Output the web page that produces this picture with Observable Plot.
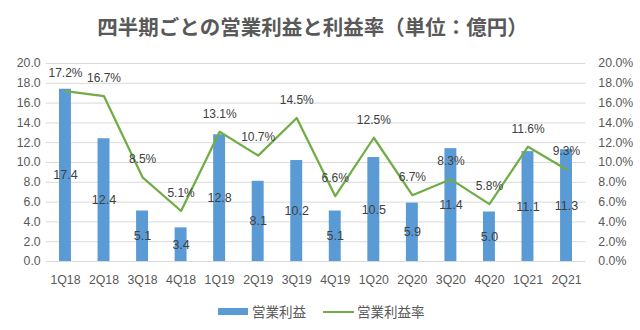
<!DOCTYPE html>
<html>
<head>
<meta charset="utf-8">
<script src="https://cdn.jsdelivr.net/npm/d3@7"></script>
<script src="https://cdn.jsdelivr.net/npm/@observablehq/plot@0.6"></script>
<style>
  body { margin: 0; background: #fff; }
  #wrap { position: relative; width: 640px; height: 330px; overflow: hidden; background: #fff; }
  #title { position: absolute; left: 0; top: 0; width: 625px; height: 45px; line-height: 52px; text-align: center;
    font-family: "Noto Sans CJK JP", sans-serif; font-weight: bold; font-size: 20.5px; color: #595959; }
  #chart { position: absolute; left: 0; top: 45px; }
  #legend { position: absolute; left: 0; top: 297px; width: 640px; height: 30px;
    font-family: "Noto Sans CJK JP", sans-serif; font-size: 13.5px; color: #595959; }
  .sw { position: absolute; }
  .lt { position: absolute; top: 4px; line-height: 20px; }
</style>
</head>
<body>
<div id="wrap">
  <div id="title">四半期ごとの営業利益と利益率（単位：億円）</div>
  <div id="chart"></div>
  <div id="legend">
    <div class="sw" style="left:218px; top:11px; width:30px; height:7px; background:#5B9BD5;"></div>
    <div class="lt" style="left:252px;">営業利益</div>
    <div class="sw" style="left:323px; top:14px; width:31px; height:2px; background:#70AD47;"></div>
    <div class="lt" style="left:357px;">営業利益率</div>
  </div>
</div>
<script>
const quarters = ["1Q18","2Q18","3Q18","4Q18","1Q19","2Q19","3Q19","4Q19","1Q20","2Q20","3Q20","4Q20","1Q21","2Q21"];
const profit = [17.4, 12.4, 5.1, 3.4, 12.8, 8.1, 10.2, 5.1, 10.5, 5.9, 11.4, 5.0, 11.1, 11.3];
const margin = [17.2, 16.7, 8.5, 5.1, 13.1, 10.7, 14.5, 6.6, 12.5, 6.7, 8.3, 5.8, 11.6, 9.3];
const yTicks = [0, 2, 4, 6, 8, 10, 12, 14, 16, 18, 20];

const data = quarters.map((q, i) => ({q, profit: profit[i], margin: margin[i]}));
const font = "'Liberation Sans', Arial, sans-serif";

const chart = Plot.plot({
  width: 640,
  height: 250,
  marginLeft: 45.7,
  marginRight: 54.7,
  marginTop: 18,
  marginBottom: 34,
  style: {fontFamily: font, fontSize: "12.3px", color: "#595959", background: "transparent"},
  x: {domain: quarters, paddingInner: 0.69, paddingOuter: 0.345, round: false, label: null},
  y: {domain: [0, 20], label: null},
  marks: [
    Plot.ruleY(yTicks, {stroke: "#D9D9D9", strokeWidth: 1}),
    Plot.axisY({anchor: "left", ticks: yTicks, tickSize: 0, tickPadding: 5.5, tickFormat: d => d.toFixed(1), label: null, fill: "#595959"}),
    Plot.axisY({anchor: "right", ticks: yTicks, tickSize: 0, tickPadding: 12.5, tickFormat: d => d.toFixed(1) + "%", label: null, fill: "#595959"}),
    Plot.axisX({tickSize: 0, tickPadding: 13.5, label: null, fill: "#595959"}),
    Plot.barY(data, {x: "q", y: "profit", fill: "#5B9BD5"}),
    Plot.line(data, {x: "q", y: "margin", stroke: "#70AD47", strokeWidth: 2.25}),
    Plot.text(data, {x: "q", y: d => d.profit / 2, text: d => d.profit.toFixed(1), fill: "#404040", fontSize: 12.5}),
    Plot.text(data, {x: "q", y: "margin", text: d => d.margin.toFixed(1) + "%", dy: -18, fill: "#404040", fontSize: 12})
  ]
});
document.getElementById("chart").appendChild(chart);
</script>
</body>
</html>
